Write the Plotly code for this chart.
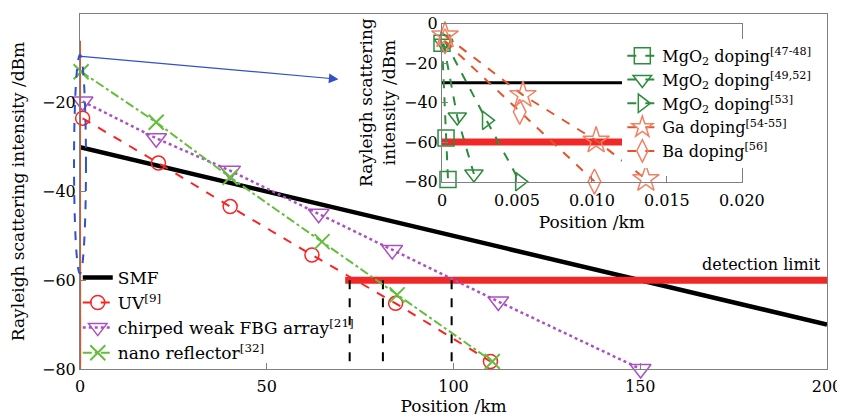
import plotly.graph_objects as go

# ---------------- main chart data (km, dBm) ----------------
smf_x = [0, 200]
smf_y = [-30, -70]
uv_x = [0.7, 21.0, 40.2, 62.1, 84.5, 109.9]
uv_y = [-23.5, -33.6, -43.4, -54.3, -65.2, -78.3]
fbg_x = [0.7, 20.4, 40.2, 63.9, 83.6, 112.0, 150.1]
fbg_y = [-19.7, -28.0, -35.3, -45.0, -53.2, -64.8, -80.0]
nano_x = [0.3, 20.4, 40.2, 64.8, 84.9, 110.4]
nano_y = [-13.0, -24.4, -36.8, -51.3, -63.3, -78.3]
limit_x = [71, 200]
limit_y = [-60, -60]
cut_x = [72.2, 81.1, 99.5]
main_xticks = [0, 50, 100, 150, 200]
main_yticks = [-80, -60, -40, -20, 0]

# ---------------- inset data (km, dBm) ----------------
mgo_a_x = [0.0, 0.00027, 0.0004]
mgo_a_y = [-10, -58, -79]
mgo_b_x = [0.0001, 0.00102, 0.00213]
mgo_b_y = [-10, -47.3, -76.2]
mgo_c_x = [0.0002, 0.00297, 0.00518]
mgo_c_y = [-9, -49, -80]
ga_x = [0.0002, 0.0054, 0.01028, 0.0136]
ga_y = [-6, -36.2, -59.2, -78.7]
ba_x = [0.0002, 0.00518, 0.01017]
ba_y = [-9, -44.7, -80]
inset_smf_x = [0, 0.02]
inset_smf_y = [-30, -30]
inset_limit_x = [0, 0.02]
inset_limit_y = [-60, -60]
inset_xticks = [0, 0.005, 0.01, 0.015, 0.02]
inset_xlabels = ["0", "0.005", "0.010", "0.015", "0.020"]
inset_yticks = [-80, -60, -40, -20, 0]

# highlight (ellipse + arrow) in data units
ell_x = [-1.6, 1.6]
ell_y = [-58.5, -9.2]
arrow_from = (0, -9.5)
arrow_to = (69.2, -14.7)
MAIN_XR = [0, 200]

FONT = "DejaVu Serif"
GREY = "#808080"
RED = "rgb(250,35,35)"
PURPLE = "rgb(170,80,195)"
LGREEN = "rgb(100,190,60)"
DGREEN = "rgb(45,140,60)"
SALMON = "rgb(240,130,100)"
ORANGE = "rgb(225,85,40)"
BLUE = "rgb(50,80,200)"

fig = go.Figure()

# main traces
fig.add_trace(go.Scatter(x=smf_x, y=smf_y, mode="lines", name="SMF",
                         line=dict(color="black", width=4.5), legend="legend"))
fig.add_trace(go.Scatter(x=limit_x, y=limit_y, mode="lines", showlegend=False,
                         line=dict(color="rgb(240,40,40)", width=7)))
for cx in cut_x:
    fig.add_trace(go.Scatter(x=[cx, cx], y=[limit_y[0], main_yticks[0]], mode="lines",
                             showlegend=False, line=dict(color="black", width=2, dash="dash")))
# inset series seen at main scale (collapse to x=0)
for sx, sy, c in [(mgo_a_x, mgo_a_y, DGREEN), (mgo_b_x, mgo_b_y, DGREEN), (mgo_c_x, mgo_c_y, DGREEN),
                  (ga_x, ga_y, ORANGE), (ba_x, ba_y, ORANGE)]:
    fig.add_trace(go.Scatter(x=sx, y=sy, mode="lines", showlegend=False,
                             line=dict(color=c, width=2)))
fig.add_trace(go.Scatter(x=uv_x, y=uv_y, mode="lines+markers", name="UV<sup>[9]</sup>",
                         line=dict(color=RED, width=2, dash="dash"), cliponaxis=False,
                         marker=dict(symbol="circle-open", size=14, color=RED, line=dict(width=1.5)),
                         legend="legend"))
fig.add_trace(go.Scatter(x=fbg_x, y=fbg_y, mode="lines+markers",
                         name="chirped weak FBG array<sup>[21]</sup>",
                         line=dict(color=PURPLE, width=2.5, dash="dot"), cliponaxis=False,
                         marker=dict(symbol="triangle-down-open", size=18, color=PURPLE, line=dict(width=1.5)),
                         legend="legend"))
fig.add_trace(go.Scatter(x=nano_x, y=nano_y, mode="lines+markers",
                         name="nano reflector<sup>[32]</sup>",
                         line=dict(color=LGREEN, width=2, dash="dashdot"), cliponaxis=False,
                         marker=dict(symbol="x-thin-open", size=15, color=LGREEN, line=dict(width=2, color=LGREEN)),
                         legend="legend"))

# inset traces
fig.add_trace(go.Scatter(x=inset_smf_x, y=inset_smf_y, mode="lines", showlegend=False,
                         xaxis="x2", yaxis="y2", line=dict(color="black", width=3)))
fig.add_trace(go.Scatter(x=inset_limit_x, y=inset_limit_y, mode="lines", showlegend=False,
                         xaxis="x2", yaxis="y2", line=dict(color="rgb(240,40,40)", width=7)))
inset_series = [
    (mgo_a_x, mgo_a_y, "MgO<sub>2</sub> doping<sup>[47-48]</sup>", DGREEN, DGREEN, "square-open", 16),
    (mgo_b_x, mgo_b_y, "MgO<sub>2</sub> doping<sup>[49,52]</sup>", DGREEN, DGREEN, "triangle-down-open", 16),
    (mgo_c_x, mgo_c_y, "MgO<sub>2</sub> doping<sup>[53]</sup>", DGREEN, DGREEN, "triangle-right-open", 16),
    (ga_x, ga_y, "Ga doping<sup>[54-55]</sup>", ORANGE, SALMON, "star-open", 20),
    (ba_x, ba_y, "Ba doping<sup>[56]</sup>", ORANGE, SALMON, "diamond-tall-open", 18),
]
for sx, sy, nm, lc, mc, sym, sz in inset_series:
    fig.add_trace(go.Scatter(x=sx, y=sy, mode="lines+markers", name=nm, xaxis="x2", yaxis="y2",
                             line=dict(color=lc, width=2, dash="dash"), cliponaxis=False,
                             marker=dict(symbol=sym, size=sz, color=mc, line=dict(width=1.5)),
                             legend="legend2"))

axis_common = dict(showline=True, mirror=True, linecolor=GREY, linewidth=1, ticks="inside",
                   ticklen=6, tickcolor=GREY, showgrid=False, zeroline=False, automargin=False,
                   tickfont=dict(family=FONT, size=16, color="black"))

# page body has an 8px margin: figure is sized so that it fits the 845x418 window
fig.update_layout(
    width=837, height=410,
    margin=dict(l=72, r=18, t=6, b=49),
    paper_bgcolor="white", plot_bgcolor="white",
    font=dict(family=FONT, size=17, color="black"),
    xaxis=dict(domain=[0, 1], range=MAIN_XR, tickvals=main_xticks, ticklabelstandoff=3,
               title=dict(text="Position /km", font=dict(size=17), standoff=4), **axis_common),
    yaxis=dict(domain=[0, 1], range=[-80, 0], tickvals=main_yticks,
               title=dict(text="Rayleigh scattering intensity /dBm", font=dict(size=17)), **axis_common),
    xaxis2=dict(domain=[0.4846, 0.886], anchor="y2", range=[0, 0.02], tickvals=inset_xticks,
                ticktext=inset_xlabels, ticklabelstandoff=4,
                title=dict(text="Position /km", font=dict(size=17), standoff=7), **axis_common),
    yaxis2=dict(domain=[0.528, 0.973], anchor="x2", range=[-80, 0], tickvals=inset_yticks,
                title=dict(text="Rayleigh scattering<br>intensity /dBm", font=dict(size=17), standoff=4),
                **axis_common),
    legend=dict(x=-0.003, y=0.3075, xanchor="left", yanchor="top", bgcolor="rgba(0,0,0,0)",
                font=dict(family=FONT, size=17), tracegroupgap=0, itemwidth=30),
    legend2=dict(x=0.726, y=0.93, xanchor="left", yanchor="top", bgcolor="white",
                 font=dict(family=FONT, size=16), tracegroupgap=0, itemwidth=30),
    showlegend=True,
)

# highlight ellipse (paper coords derived from data units so it is not clipped)
def to_px(v):
    return (v - MAIN_XR[0]) / (MAIN_XR[1] - MAIN_XR[0])

fig.add_shape(type="circle", xref="paper", yref="y", x0=to_px(ell_x[0]), x1=to_px(ell_x[1]),
              y0=ell_y[0], y1=ell_y[1], line=dict(color=BLUE, width=2, dash="dash"))
fig.add_annotation(x=arrow_to[0], y=arrow_to[1], ax=arrow_from[0], ay=arrow_from[1],
                   xref="x", yref="y", axref="x", ayref="y", text="", showarrow=True,
                   arrowhead=2, arrowsize=1.6, arrowwidth=1.2, arrowcolor=BLUE)
fig.add_annotation(x=199, y=limit_y[0], xref="x", yref="y", text="detection limit",
                   showarrow=False, xanchor="right", yanchor="bottom", yshift=4,
                   font=dict(family=FONT, size=16, color="black"))

fig.write_html("out.html")
